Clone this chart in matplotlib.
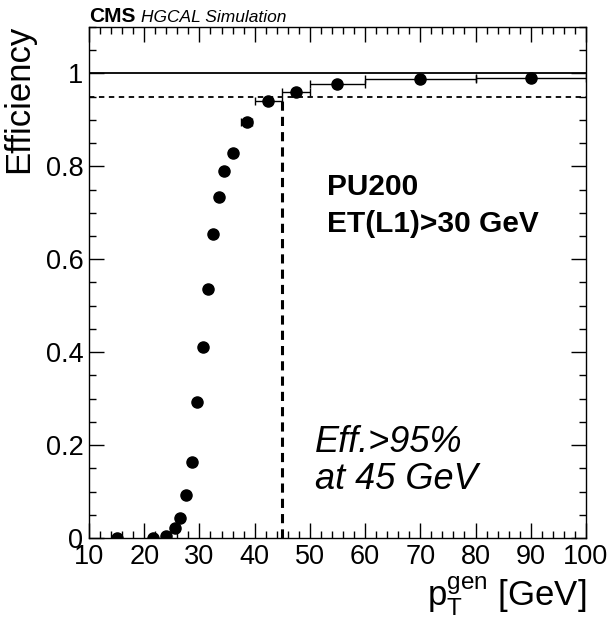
import numpy as np
import matplotlib
matplotlib.use("Agg")
import matplotlib.pyplot as plt
from matplotlib.ticker import MultipleLocator, FuncFormatter

plt.rcParams["font.family"] = ["Liberation Sans", "DejaVu Sans"]
plt.rcParams["mathtext.fontset"] = "custom"
plt.rcParams["mathtext.rm"] = "Liberation Sans"
plt.rcParams["mathtext.it"] = "Liberation Sans:italic"

# efficiency vs generated pT
pt = [15.0, 21.5, 24.0, 25.5, 26.5, 27.5, 28.6, 29.5, 30.6, 31.6, 32.5,
      33.6, 34.5, 36.0, 38.6, 42.5, 47.5, 55.0, 70.0, 90.0]
pt_lo = [0, 0, 0, 0, 0, 0, 0, 0, 0, 0, 0, 0, 0, 0, 1.0, 2.5, 2.5, 5.0, 10.0, 10.0]
pt_hi = [0, 0, 0, 0, 0, 0, 0, 0, 0, 0, 0, 0, 0, 0, 1.0, 2.5, 2.5, 5.0, 10.0, 10.0]
eff = [0.0, 0.0, 0.005, 0.021, 0.042, 0.093, 0.163, 0.293, 0.411, 0.535, 0.654,
       0.733, 0.790, 0.829, 0.895, 0.940, 0.960, 0.977, 0.988, 0.990]

eff_cut = 0.95
pt_cut = 45

fig = plt.figure(figsize=(6.11, 6.2), dpi=100)
ax = fig.add_axes([0.1457, 0.1323, 0.959 - 0.1457, 0.9565 - 0.1323])

ax.axhline(1.0, color="black", lw=1.3)
ax.axhline(eff_cut, color="black", lw=1.3, ls=(0, (3, 2.5)))
ax.plot([pt_cut, pt_cut], [0, eff_cut], color="black", lw=2.2, ls=(0, (3, 2)))

ax.errorbar(pt, eff, xerr=[pt_lo, pt_hi], fmt="o", color="black",
            markersize=8, elinewidth=1.0, capsize=3, capthick=1.0)

ax.set_xlim(10, 100)
ax.set_ylim(0, 1.1)

ax.xaxis.set_major_locator(MultipleLocator(10))
ax.xaxis.set_minor_locator(MultipleLocator(2))
ax.yaxis.set_major_locator(MultipleLocator(0.2))
ax.yaxis.set_minor_locator(MultipleLocator(0.05))
ax.yaxis.set_major_formatter(FuncFormatter(lambda v, p: "%g" % round(v, 2)))

ax.tick_params(which="both", direction="in", top=True, right=True,
               labelsize=19.5, width=1.0)
ax.tick_params(which="major", length=10.5)
ax.tick_params(which="minor", length=5.3)
ax.tick_params(axis="x", pad=4)
ax.tick_params(axis="y", pad=4)
for s in ax.spines.values():
    s.set_linewidth(1.0)

ax.text(53.1, 0.738, "PU200", fontsize=21.5, fontweight="bold")
ax.text(53.1, 0.659, "ET(L1)>30 GeV", fontsize=21.5, fontweight="bold")
ax.text(50.9, 0.186, "Eff.>95%", fontsize=26, style="italic")
ax.text(50.9, 0.105, "at 45 GeV", fontsize=26, style="italic")

ax.text(0.0, 1.01, "CMS", transform=ax.transAxes, fontsize=15,
        fontweight="bold", va="baseline")
ax.text(0.105, 1.01, "HGCAL Simulation", transform=ax.transAxes,
        fontsize=12.5, style="italic", va="baseline")

fig.text(0.031, 1 - 25 / 620, "Efficiency", rotation=90, fontsize=25,
         ha="center", va="top")
fig.text(0.959, 0.021, r"$\mathrm{p}_{\mathrm{T}}^{\mathrm{gen}}$ [GeV]",
         fontsize=25, ha="right", va="baseline")

fig.savefig("out.png", dpi=100)
